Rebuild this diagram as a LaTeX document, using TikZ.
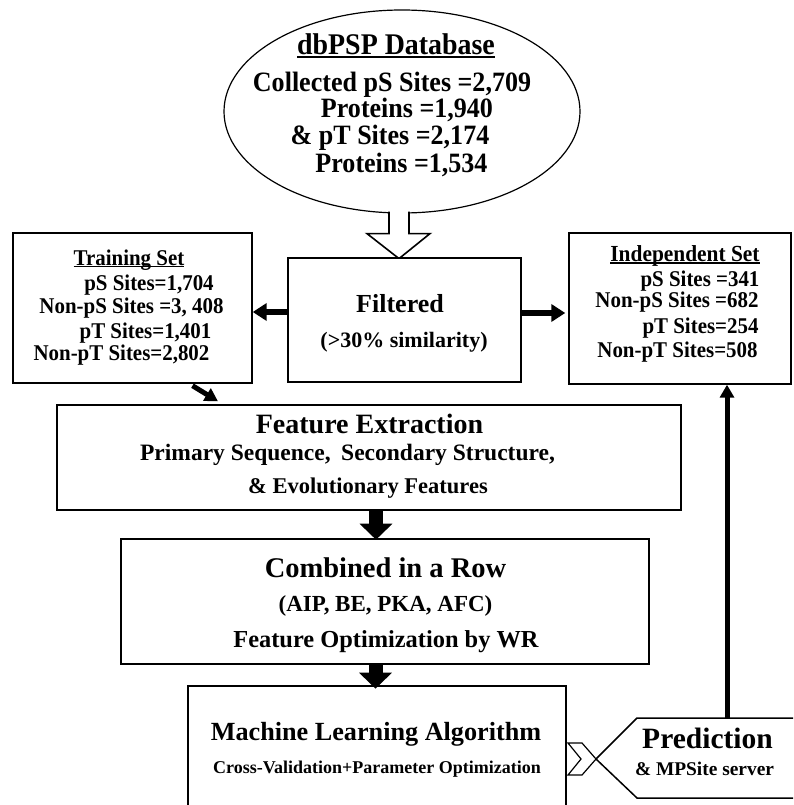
\documentclass[tikz,border=0pt]{standalone}
\usepackage{fontspec}
\setmainfont{Liberation Serif}
\newfontfamily\condA{Liberation Serif}[FakeStretch=0.93]
\newfontfamily\condB{Liberation Serif}[FakeStretch=0.93]
\usetikzlibrary{arrows.meta,calc,shapes.geometric}
\newcommand\fsz[1]{\fontsize{#1}{#1}\selectfont}
\newlength\ulw
\newcommand\ulin[1]{\settowidth\ulw{#1}\rlap{\rule[-0.11em]{\ulw}{0.075em}}#1}
\begin{document}
\begin{tikzpicture}[x=1pt,y=-1pt,
  box/.style={draw,line width=1.4pt,inner sep=0pt,fill=white},
  txt/.style={inner sep=0pt,anchor=base,font=\bfseries},
  fat/.style={line width=6.5pt,-{Triangle[length=14pt,width=17pt]}},
  vfat/.style={line width=14pt,-{Triangle[length=16pt,width=32pt]}},
  slim/.style={line width=5pt,-{Triangle[length=13pt,width=14pt]}}
]
\path[use as bounding box] (0,0) rectangle (793,805);
\clip (0,0) rectangle (793,805);
\fill[white] (0,0) rectangle (793,805);

% database ellipse
\node[draw,ellipse,line width=1.2pt,inner sep=0pt,minimum width=356pt,minimum height=203pt] (db) at (402,111.5) {};
\node[txt,font=\condA\bfseries\fsz{30}] (dbt) at (396,55) {\ulin{dbPSP Database}};
\node[txt,font=\condA\bfseries\fsz{28}] (db1) at (392,92) {Collected pS Sites =2,709};
\node[txt,font=\condA\bfseries\fsz{28}] (db2) at (407,118) {Proteins =1,940};
\node[txt,font=\condA\bfseries\fsz{28}] (db3) at (390,145) {\& pT Sites =2,174};
\node[txt,font=\condA\bfseries\fsz{28}] (db4) at (401.5,172) {Proteins =1,534};

% hollow arrow
\coordinate (ha) at (db.south);
\filldraw[fill=white,line width=1.6pt] ($(ha)+(-13,-2)$) -- ($(ha)+(-13,20)$) -- ($(ha)+(-35,20)$) -- ($(ha)+(-3,45)$) -- ($(ha)+(28,20)$) -- ($(ha)+(7,20)$) -- ($(ha)+(7,-2)$);

% boxes
\node[box,minimum width=233pt,minimum height=124pt] (filt) at (404.5,320) {};
\node[box,minimum width=239pt,minimum height=150pt] (train) at (132.5,308) {};
\node[box,minimum width=222pt,minimum height=151pt] (indep) at (680,308.5) {};
\node[box,minimum width=624pt,minimum height=105pt] (feat) at (369,457.5) {};
\node[box,minimum width=528pt,minimum height=125pt] (comb) at (385,601.5) {};
\node[box,minimum width=378pt,minimum height=140pt] (mla) at (377,756) {};

% filtered text
\node[txt,font=\bfseries\fsz{26}] (f1) at (400,312) {Filtered};
\node[txt,font=\bfseries\fsz{22}] (f2) at (404,347) {(>30\% similarity)};

% training text
\node[txt,font=\condB\bfseries\fsz{22.5}] (t0) at (129,265) {\ulin{Training Set}};
\node[txt,font=\condB\bfseries\fsz{22.5}] (t1) at (149,290) {pS Sites=1,704};
\node[txt,font=\condB\bfseries\fsz{22.5}] (t2) at (131.5,313) {Non-pS Sites =3, 408};
\node[txt,font=\condB\bfseries\fsz{22.5}] (t3) at (145.5,338) {pT Sites=1,401};
\node[txt,font=\condB\bfseries\fsz{22.5}] (t4) at (121.5,360) {Non-pT Sites=2,802};

% independent text
\node[txt,font=\condB\bfseries\fsz{23}] (i0) at (685,261) {\ulin{Independent Set}};
\node[txt,font=\condB\bfseries\fsz{22.5}] (i1) at (700,286) {pS Sites =341};
\node[txt,font=\condB\bfseries\fsz{22.5}] (i2) at (677,307) {Non-pS Sites =682};
\node[txt,font=\condB\bfseries\fsz{22.5}] (i3) at (700.5,333) {pT Sites=254};
\node[txt,font=\condB\bfseries\fsz{22.5}] (i4) at (677.5,357) {Non-pT Sites=508};

% feature extraction text
\node[txt,font=\bfseries\fsz{28}] (fe0) at (369.5,433) {Feature Extraction};
\node[txt,font=\bfseries\fsz{23.5}] (fe1) at (347.5,460) {Primary Sequence,\hspace{0.45em}Secondary Structure,};
\node[txt,font=\bfseries\fsz{22.5}] (fe2) at (368,493) {\& Evolutionary Features};

% combined text
\node[txt,font=\bfseries\fsz{28.5}] (c0) at (385.5,577) {Combined in a Row};
\node[txt,font=\bfseries\fsz{23}] (c1) at (385.5,611) {(AIP, BE, PKA, AFC)};
\node[txt,font=\bfseries\fsz{24.4}] (c2) at (386,647) {Feature Optimization by WR};

% machine learning text
\node[txt,font=\bfseries\fsz{26.2}] (m0) at (376,740) {Machine Learning Algorithm};
\node[txt,font=\bfseries\fsz{18}] (m1) at (377,773) {Cross-Validation+Parameter Optimization};

% prediction shape
\draw[line width=1.5pt,fill=white] (596,759) -- (637,718) -- (800,718) -- (800,798) -- (637,798) -- cycle;
\coordinate (predtop) at (727,718);
\draw[line width=1.2pt,fill=white] (568,743) -- (582,743) -- (596,759) -- (582,775) -- (568,775) -- (581,759) -- cycle;
\node[txt,font=\bfseries\fsz{29.5}] (p0) at (707.5,748) {Prediction};
\node[txt,font=\bfseries\fsz{19.4}] (p1) at (704.5,775) {\& MPSite server};

% arrows
\coordinate (fl) at ($(filt.west)+(0,-8)$);
\draw[fat] (fl) -- (fl -| train.east);
\coordinate (fr) at ($(filt.east)+(0,-7)$);
\draw[fat] (fr) -- ($(fr -| indep.west)+(-3,0)$);
\draw[slim] ($(train.south)+(60,2)$) -- ($(feat.north)+(-151,-3)$);
\draw[vfat] ($(feat.south)+(7,0)$) -- ($(feat.south)+(7,29)$);
\draw[vfat] ($(comb.south)+(-9.5,0)$) -- ($(comb.south)+(-9.5,24)$);
\draw[slim] (predtop) -- (predtop |- indep.south);
\end{tikzpicture}
\end{document}
